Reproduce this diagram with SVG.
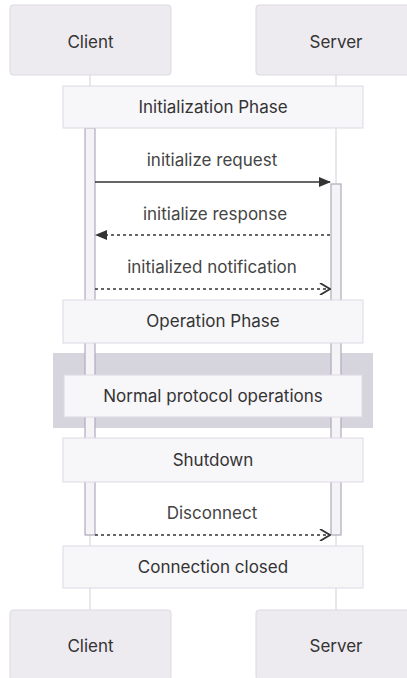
<svg xmlns="http://www.w3.org/2000/svg" width="407" height="678" viewBox="0 0 407 678">
  <defs>
    <style>
      .actor { fill: #eeebf0; stroke: #dcd9e2; stroke-width: 1; }
      .note { fill: #f7f6f9; stroke: #dddae3; stroke-width: 1; }
      .life { stroke: #d2cfda; stroke-width: 1; fill: none; }
      .act { fill: #f6f3f7; stroke: #aeabbf; stroke-width: 1.2; }
      .msg { stroke: #333333; stroke-width: 1.5; fill: none; }
      .dot { stroke-dasharray: 3 3; }
      text { font-family: Inter, "Noto Sans", "Liberation Sans", sans-serif; font-size: 17px; text-anchor: middle; dominant-baseline: central; }
      .lbl { fill: #333333; }
      .mtx { fill: #444444; }
    </style>
    <marker id="solidHead" viewBox="0 0 12 10" refX="11" refY="5" markerWidth="12" markerHeight="10" markerUnits="userSpaceOnUse" orient="auto-start-reverse">
      <path d="M0,0 L12,5 L0,10 Z" fill="#333333"/>
    </marker>
    <marker id="openHead" viewBox="0 0 12 12" refX="11" refY="6" markerWidth="12" markerHeight="12" markerUnits="userSpaceOnUse" orient="auto">
      <path d="M1,0 L11,6 L1,12" fill="none" stroke="#333333" stroke-width="1.8"/>
    </marker>
  </defs>

  <rect width="407" height="678" fill="#ffffff"/>

  <!-- lifelines -->
  <g id="lifelines">
    <line class="life" x1="90" y1="75" x2="90" y2="610"/>
    <line class="life" x1="336" y1="75" x2="336" y2="610"/>
  </g>

  <!-- operations block background -->
  <g id="ops-block">
    <rect x="53" y="353" width="320" height="75" fill="#d6d4dd"/>
  </g>

  <!-- activation bars -->
  <g id="activations">
    <rect class="act" x="85" y="128" width="10" height="407"/>
    <rect class="act" x="331" y="184" width="10" height="351"/>
  </g>

  <!-- actors -->
  <g id="client-top">
    <rect class="actor" x="10" y="5" width="161" height="70" rx="3"/>
    <text class="lbl" x="90.5" y="42">Client</text>
  </g>
  <g id="server-top">
    <rect class="actor" x="256" y="5" width="161" height="70" rx="3"/>
    <text class="lbl" x="336" y="42">Server</text>
  </g>
  <g id="client-bottom">
    <rect class="actor" x="10" y="610" width="161" height="70" rx="3"/>
    <text class="lbl" x="90.5" y="646">Client</text>
  </g>
  <g id="server-bottom">
    <rect class="actor" x="256" y="610" width="161" height="70" rx="3"/>
    <text class="lbl" x="336" y="646">Server</text>
  </g>

  <!-- notes -->
  <g id="note-init">
    <rect class="note" x="63" y="86" width="300" height="42"/>
    <text class="lbl" x="213" y="107">Initialization Phase</text>
  </g>
  <g id="note-operation">
    <rect class="note" x="63" y="300" width="300" height="43"/>
    <text class="lbl" x="213" y="321">Operation Phase</text>
  </g>
  <g id="note-normal">
    <rect class="note" x="64" y="375" width="298" height="42"/>
    <text class="lbl" x="213" y="396">Normal protocol operations</text>
  </g>
  <g id="note-shutdown">
    <rect class="note" x="63" y="438" width="300" height="44"/>
    <text class="lbl" x="213" y="460">Shutdown</text>
  </g>
  <g id="note-closed">
    <rect class="note" x="63" y="546" width="300" height="42"/>
    <text class="lbl" x="213" y="567">Connection closed</text>
  </g>

  <!-- messages -->
  <g id="connectors">
    <line class="msg" x1="95" y1="182" x2="330" y2="182" marker-end="url(#solidHead)"/>
    <line class="msg dot" x1="330" y1="235" x2="96" y2="235" marker-end="url(#solidHead)"/>
    <line class="msg dot" x1="95" y1="289" x2="330" y2="289" marker-end="url(#openHead)"/>
    <line class="msg dot" x1="95" y1="535" x2="330" y2="535" marker-end="url(#openHead)"/>
  </g>
  <g id="message-labels">
    <text class="mtx" x="212" y="160">initialize request</text>
    <text class="mtx" x="215" y="214">initialize response</text>
    <text class="mtx" x="212" y="267">initialized notification</text>
    <text class="mtx" x="212" y="513">Disconnect</text>
  </g>
</svg>
